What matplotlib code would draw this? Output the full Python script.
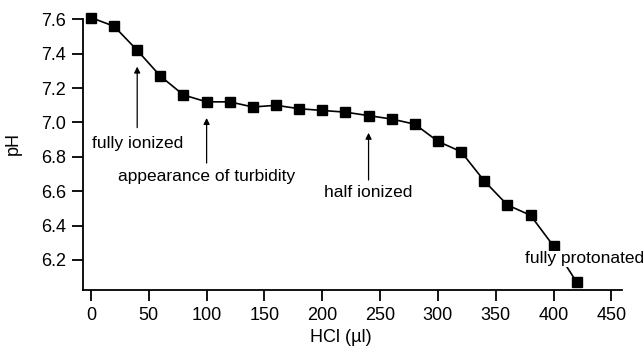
import matplotlib
matplotlib.use('Agg')
import matplotlib.pyplot as plt

plt.rcParams['font.family'] = ['Liberation Sans', 'DejaVu Sans']

# titration data
hcl = [0, 20, 40, 60, 80, 100, 120, 140, 160, 180, 200, 220,
       240, 260, 280, 300, 320, 340, 360, 380, 400, 420]
ph = [7.61, 7.56, 7.42, 7.27, 7.16, 7.12, 7.12, 7.09, 7.10, 7.08, 7.07, 7.06,
      7.04, 7.02, 6.99, 6.89, 6.83, 6.66, 6.52, 6.46, 6.28, 6.07]

x_ticks = [0, 50, 100, 150, 200, 250, 300, 350, 400, 450]
y_ticks = [6.2, 6.4, 6.6, 6.8, 7.0, 7.2, 7.4, 7.6]

# annotation labels: (text, x, arrow head y, arrow tail y, text y)
notes = [
    ('fully ionized', 40, 7.325, 6.97, 6.88),
    ('appearance of turbidity', 100, 7.026, 6.764, 6.688),
    ('half ionized', 240, 6.94, 6.665, 6.59),
]

fig = plt.figure(figsize=(6.43, 3.52), dpi=100)
ax = fig.add_axes([0.129, 0.176, 0.838, 0.770])

ax.plot(hcl, ph, '-s', color='black', lw=1.2, markersize=7, clip_on=False, zorder=3)

for txt, x, yh, yt, ytxt in notes:
    ax.annotate('', xy=(x, yh), xytext=(x, yt),
                arrowprops=dict(arrowstyle='-|>', color='black', lw=0.9,
                                mutation_scale=9, shrinkA=0, shrinkB=0))
    ax.text(x, ytxt, txt, ha='center', va='center', fontsize=12.5)

# label sits over the last segment, hiding part of it
ax.text(427, 6.206, 'fully protonated', ha='center', va='center', fontsize=12.5,
        zorder=4, bbox=dict(facecolor='white', edgecolor='none', pad=0.5))

ax.set_xlim(-6.9, 458.9)
ax.set_ylim(6.025, 7.602)
ax.set_xticks(x_ticks)
ax.set_yticks(y_ticks)
ax.set_yticklabels(['%.1f' % v for v in y_ticks])

ax.spines['top'].set_visible(False)
ax.spines['right'].set_visible(False)
for s in ['left', 'bottom']:
    ax.spines[s].set_linewidth(1.3)
ax.tick_params(direction='out', length=8, width=1.3, pad=4, labelsize=13)

ax.set_xlabel('HCl (µl)', fontsize=13)
ax.xaxis.set_label_coords(0.479, -0.145)
ax.set_ylabel('pH', fontsize=13)
ax.yaxis.set_label_coords(-0.113, 0.542)

fig.savefig('out.png', dpi=100)
